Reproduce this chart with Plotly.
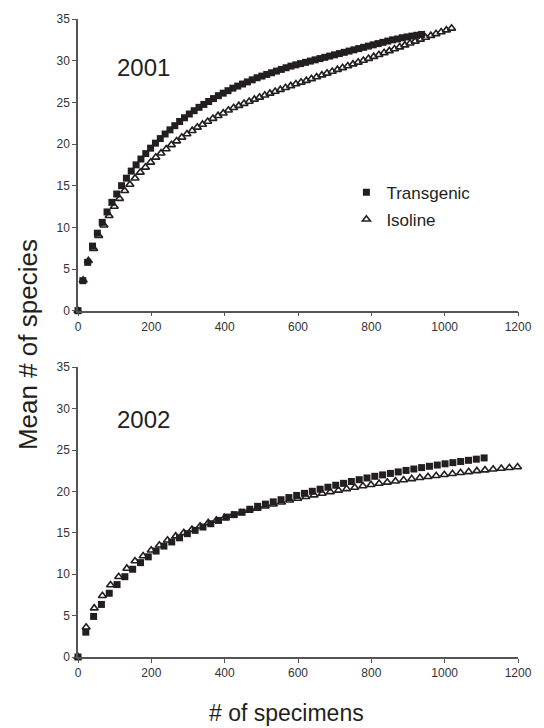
import plotly.graph_objects as go

# ---- 2001 ----
step_t01 = 13.2
trans_2001 = [0, 3.6, 5.8, 7.75, 9.3, 10.6, 11.85, 13.0, 14.0, 15.0, 15.9, 16.75, 17.5, 18.2, 18.85,
              19.5, 20.1, 20.65, 21.2, 21.7, 22.2, 22.7, 23.15, 23.6, 24.0, 24.4, 24.75, 25.1, 25.45,
              25.8, 26.1, 26.4, 26.7, 26.95, 27.2, 27.45, 27.7, 27.95, 28.15, 28.35, 28.55, 28.75,
              28.95, 29.15, 29.35, 29.5, 29.65, 29.8, 29.95, 30.1, 30.25, 30.4, 30.55, 30.7, 30.85,
              31.0, 31.15, 31.3, 31.45, 31.6, 31.75, 31.9, 32.05, 32.2, 32.35, 32.5, 32.6, 32.75,
              32.85, 32.95, 33.05, 33.15]
step_i01 = 14.15
iso_2001 = [0, 3.65, 6.0, 7.45, 9.0, 10.25, 11.4, 12.5, 13.45, 14.4, 15.15, 15.9, 16.6, 17.2, 17.8,
            18.4, 18.9, 19.4, 19.9, 20.35, 20.8, 21.2, 21.6, 22.0, 22.35, 22.7, 23.05, 23.4, 23.7,
            24.05, 24.35, 24.6, 24.85, 25.1, 25.35, 25.6, 25.85, 26.07, 26.3, 26.52, 26.75, 26.97,
            27.2, 27.4, 27.6, 27.82, 28.04, 28.26, 28.48, 28.7, 28.92, 29.14, 29.36, 29.58, 29.8,
            30.02, 30.25, 30.48, 30.71, 30.94, 31.17, 31.4, 31.63, 31.86, 32.09, 32.32, 32.55,
            32.78, 33.0, 33.22, 33.44, 33.66, 33.88]

# ---- 2002 ----
step_t02 = 21.3
trans_2002 = [0, 3.0, 4.9, 6.35, 7.7, 8.75, 9.7, 10.6, 11.4, 12.1, 12.8, 13.4, 13.9, 14.4, 14.9,
              15.3, 15.7, 16.1, 16.5, 16.9, 17.2, 17.5, 17.85, 18.2, 18.47, 18.74, 19.0, 19.26,
              19.52, 19.77, 20.02, 20.27, 20.51, 20.75, 20.98, 21.2, 21.42, 21.63, 21.83, 22.0,
              22.18, 22.36, 22.54, 22.71, 22.88, 23.04, 23.19, 23.34, 23.48, 23.62, 23.76, 23.9, 24.05]
step_i02 = 22.2
iso_2002 = [0, 3.6, 5.9, 7.4, 8.7, 9.7, 10.7, 11.6, 12.2, 12.9, 13.5, 14.1, 14.6, 15.0, 15.4, 15.8,
            16.2, 16.5, 16.8, 17.1, 17.4, 17.7, 17.95, 18.21, 18.46, 18.7, 18.93, 19.15, 19.36,
            19.56, 19.76, 19.95, 20.13, 20.31, 20.48, 20.65, 20.81, 20.96, 21.1, 21.24, 21.38,
            21.52, 21.65, 21.78, 21.9, 22.02, 22.14, 22.26, 22.37, 22.48, 22.58, 22.68, 22.77,
            22.86, 22.95]

x_ticks = [0, 200, 400, 600, 800, 1000, 1200]
y_ticks = [0, 5, 10, 15, 20, 25, 30, 35]


def xs(step, n):
    return [round(step * i, 2) for i in range(n)]


FONT = "Arial, Liberation Sans, sans-serif"
INK = "#231f20"

fig = go.Figure()

sq = dict(symbol="square", size=7, color=INK, line=dict(width=0))
tri = dict(symbol="triangle-up-open", size=7, color=INK, line=dict(width=1.6, color=INK))

fig.add_trace(go.Scatter(x=xs(step_t01, len(trans_2001)), y=trans_2001, mode="markers",
                         marker=sq, name="Transgenic", legendgroup="t",
                         xaxis="x", yaxis="y", cliponaxis=False))
fig.add_trace(go.Scatter(x=xs(step_i01, len(iso_2001)), y=iso_2001, mode="markers",
                         marker=tri, name="Isoline", legendgroup="i",
                         xaxis="x", yaxis="y", cliponaxis=False))
fig.add_trace(go.Scatter(x=xs(step_t02, len(trans_2002)), y=trans_2002, mode="markers",
                         marker=sq, name="Transgenic", showlegend=False,
                         xaxis="x2", yaxis="y2", cliponaxis=False))
fig.add_trace(go.Scatter(x=xs(step_i02, len(iso_2002)), y=iso_2002, mode="markers",
                         marker=tri, name="Isoline", showlegend=False,
                         xaxis="x2", yaxis="y2", cliponaxis=False))

axis_common = dict(showgrid=False, zeroline=False, showline=True, linecolor="#555555", linewidth=1.5,
                   ticks="outside", ticklen=4, tickwidth=1, tickcolor="#555555",
                   tickfont=dict(family=FONT, size=12, color="#333333"))

xdom = [0, 1]
fig.update_layout(
    width=544, height=728,
    margin=dict(l=78, r=16, t=14, b=71),
    paper_bgcolor="white", plot_bgcolor="white",
    font=dict(family=FONT, color=INK),
    xaxis=dict(domain=xdom, anchor="y", range=[0, 1200], tickvals=x_ticks, **axis_common),
    yaxis=dict(domain=[0.5428, 1], anchor="x", range=[0, 35], tickvals=y_ticks, **axis_common),
    xaxis2=dict(domain=xdom, anchor="y2", range=[0, 1200], tickvals=x_ticks, **axis_common),
    yaxis2=dict(domain=[0, 0.4541], anchor="x2", range=[0, 35], tickvals=y_ticks, **axis_common),
    legend=dict(x=0.61, y=0.756, xanchor="left", yanchor="top", bgcolor="rgba(0,0,0,0)",
                font=dict(family=FONT, size=17, color=INK), tracegroupgap=2, itemwidth=30),
    showlegend=True,
    annotations=[
        dict(text="2001", x=0.148, y=0.9246, xref="paper", yref="paper", showarrow=False,
             xanchor="center", yanchor="middle",
             font=dict(family=FONT, size=24, color=INK)),
        dict(text="2002", x=0.148, y=0.373, xref="paper", yref="paper", showarrow=False,
             xanchor="center", yanchor="middle",
             font=dict(family=FONT, size=24, color=INK)),
        dict(text="Mean # of species", x=-0.112, y=0.490, xref="paper", yref="paper",
             xanchor="center", yanchor="middle", textangle=-90, showarrow=False,
             font=dict(family=FONT, size=26, color=INK)),
        dict(text="# of specimens", x=0.473, y=-0.087, xref="paper", yref="paper",
             xanchor="center", yanchor="middle", showarrow=False,
             font=dict(family=FONT, size=23, color=INK)),
    ],
)

fig.write_html("out.html")
